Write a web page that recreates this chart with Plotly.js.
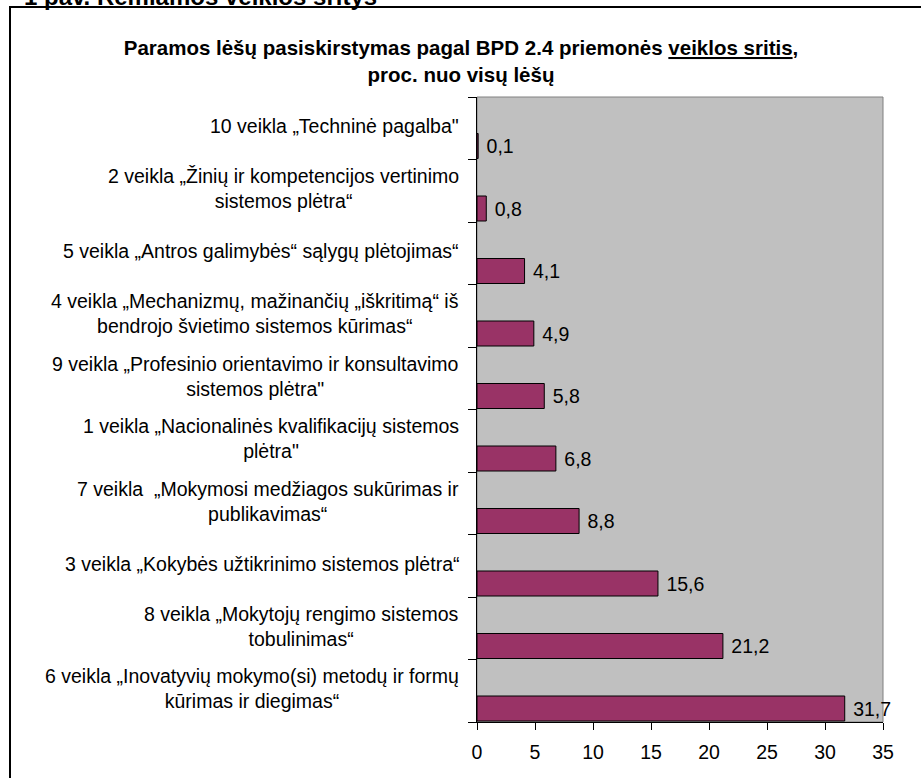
<!DOCTYPE html>
<html>
<head>
<meta charset="utf-8">
<script src="https://cdn.plot.ly/plotly-3.0.1.min.js"></script>
<style>
  html, body { margin: 0; padding: 0; background: #ffffff; }
  #chart { width: 921px; height: 778px; }
</style>
</head>
<body>
<div id="chart"></div>
<script>
// Categories listed from bottom to top of the chart
const categories = [
  "6 veikla „Inovatyvių mokymo(si) metodų ir formų<br>kūrimas ir diegimas“",
  "8 veikla „Mokytojų rengimo sistemos<br>tobulinimas“",
  "3 veikla „Kokybės užtikrinimo sistemos plėtra“",
  "7 veikla  „Mokymosi medžiagos sukūrimas ir<br>publikavimas“",
  "1 veikla „Nacionalinės kvalifikacijų sistemos<br>plėtra\"",
  "9 veikla „Profesinio orientavimo ir konsultavimo<br>sistemos plėtra\"",
  "4 veikla „Mechanizmų, mažinančių „iškritimą“ iš<br>bendrojo švietimo sistemos kūrimas“",
  "5 veikla „Antros galimybės“ sąlygų plėtojimas“",
  "2 veikla „Žinių ir kompetencijos vertinimo<br>sistemos plėtra“",
  "10 veikla „Techninė pagalba\""
];
const values = [31.7, 21.2, 15.6, 8.8, 6.8, 5.8, 4.9, 4.1, 0.8, 0.1];
const xTicks = [0, 5, 10, 15, 20, 25, 30, 35];

const valueLabels = values.map(v => '\u00a0' + v.toFixed(1).replace('.', ','));

const FONT = '"Liberation Sans", Arial, sans-serif';

const trace = {
  type: 'bar',
  orientation: 'h',
  x: values,
  y: categories,
  width: 0.40,
  offset: -0.484,
  marker: { color: '#993366', line: { color: '#000000', width: 1 } },
  text: valueLabels,
  textposition: 'outside',
  textfont: { family: FONT, size: 19.5, color: '#000000' },
  cliponaxis: false,
  constraintext: 'none',
  hoverinfo: 'x+y',
  showlegend: false
};

const labelAnnotations = categories.map(c => ({
  xref: 'x', yref: 'y', x: 0, y: c,
  xanchor: 'right', yanchor: 'middle', xshift: -16, yshift: 2,
  text: c, align: 'center', showarrow: false,
  font: { family: FONT, size: 19.5, color: '#000000' }
}));

// pixel helpers for paper coords (plot area: x 477..883, y 97..722)
const L = 477, R = 883, T = 97, B = 722;
const px = p => (p - L) / (R - L);
const py = p => (B - p) / (B - T);

const layout = {
  width: 921, height: 778,
  margin: { l: L, r: 921 - R, t: T, b: 778 - B, pad: 0 },
  paper_bgcolor: '#ffffff',
  plot_bgcolor: '#C0C0C0',
  font: { family: FONT, size: 19, color: '#000000' },
  title: {
    text: '<b>Paramos lėšų pasiskirstymas pagal BPD 2.4 priemonės <u>veiklos sritis</u>,<br>proc. nuo visų lėšų</b>',
    font: { family: FONT, size: 20.5, color: '#000000' },
    xref: 'container', yref: 'container',
    x: 461 / 921, xanchor: 'center',
    y: 1 - 55 / 778, yanchor: 'middle'
  },
  xaxis: {
    range: [0, 35],
    tickvals: xTicks,
    ticktext: xTicks.map(String),
    ticks: 'outside', ticklen: 7, tickcolor: '#000000', tickwidth: 1,
    ticklabelstandoff: 6,
    showline: true, linecolor: '#000000', linewidth: 1,
    showgrid: false, zeroline: false,
    tickfont: { family: FONT, size: 19.5, color: '#000000' },
    fixedrange: true
  },
  yaxis: {
    type: 'category',
    categoryorder: 'array', categoryarray: categories,
    range: [-0.5, categories.length - 0.5],
    tickson: 'boundaries',
    ticks: 'outside', ticklen: 8, tickcolor: '#000000', tickwidth: 1,
    showticklabels: false,
    showline: true, linecolor: '#000000', linewidth: 1,
    showgrid: false, zeroline: false,
    fixedrange: true
  },
  bargap: 0,
  shapes: [
    { type: 'rect', xref: 'paper', yref: 'paper', x0: 0, x1: 1, y0: 0, y1: 1,
      line: { color: '#808080', width: 1 }, fillcolor: 'rgba(0,0,0,0)', layer: 'below' },
    { type: 'rect', xref: 'paper', yref: 'paper',
      x0: px(10), x1: px(960), y0: py(820), y1: py(7),
      line: { color: '#000000', width: 2 }, fillcolor: 'rgba(0,0,0,0)', layer: 'below' }
  ],
  annotations: labelAnnotations.concat([
    { xref: 'paper', yref: 'paper', x: px(22), y: py(12),
      xanchor: 'left', yanchor: 'bottom', showarrow: false,
      text: '<b>1 pav. Remiamos veiklos sritys</b>',
      font: { family: FONT, size: 24, color: '#000000' } }
  ])
};

Plotly.newPlot('chart', [trace], layout, { displayModeBar: false, staticPlot: true });
</script>
</body>
</html>
